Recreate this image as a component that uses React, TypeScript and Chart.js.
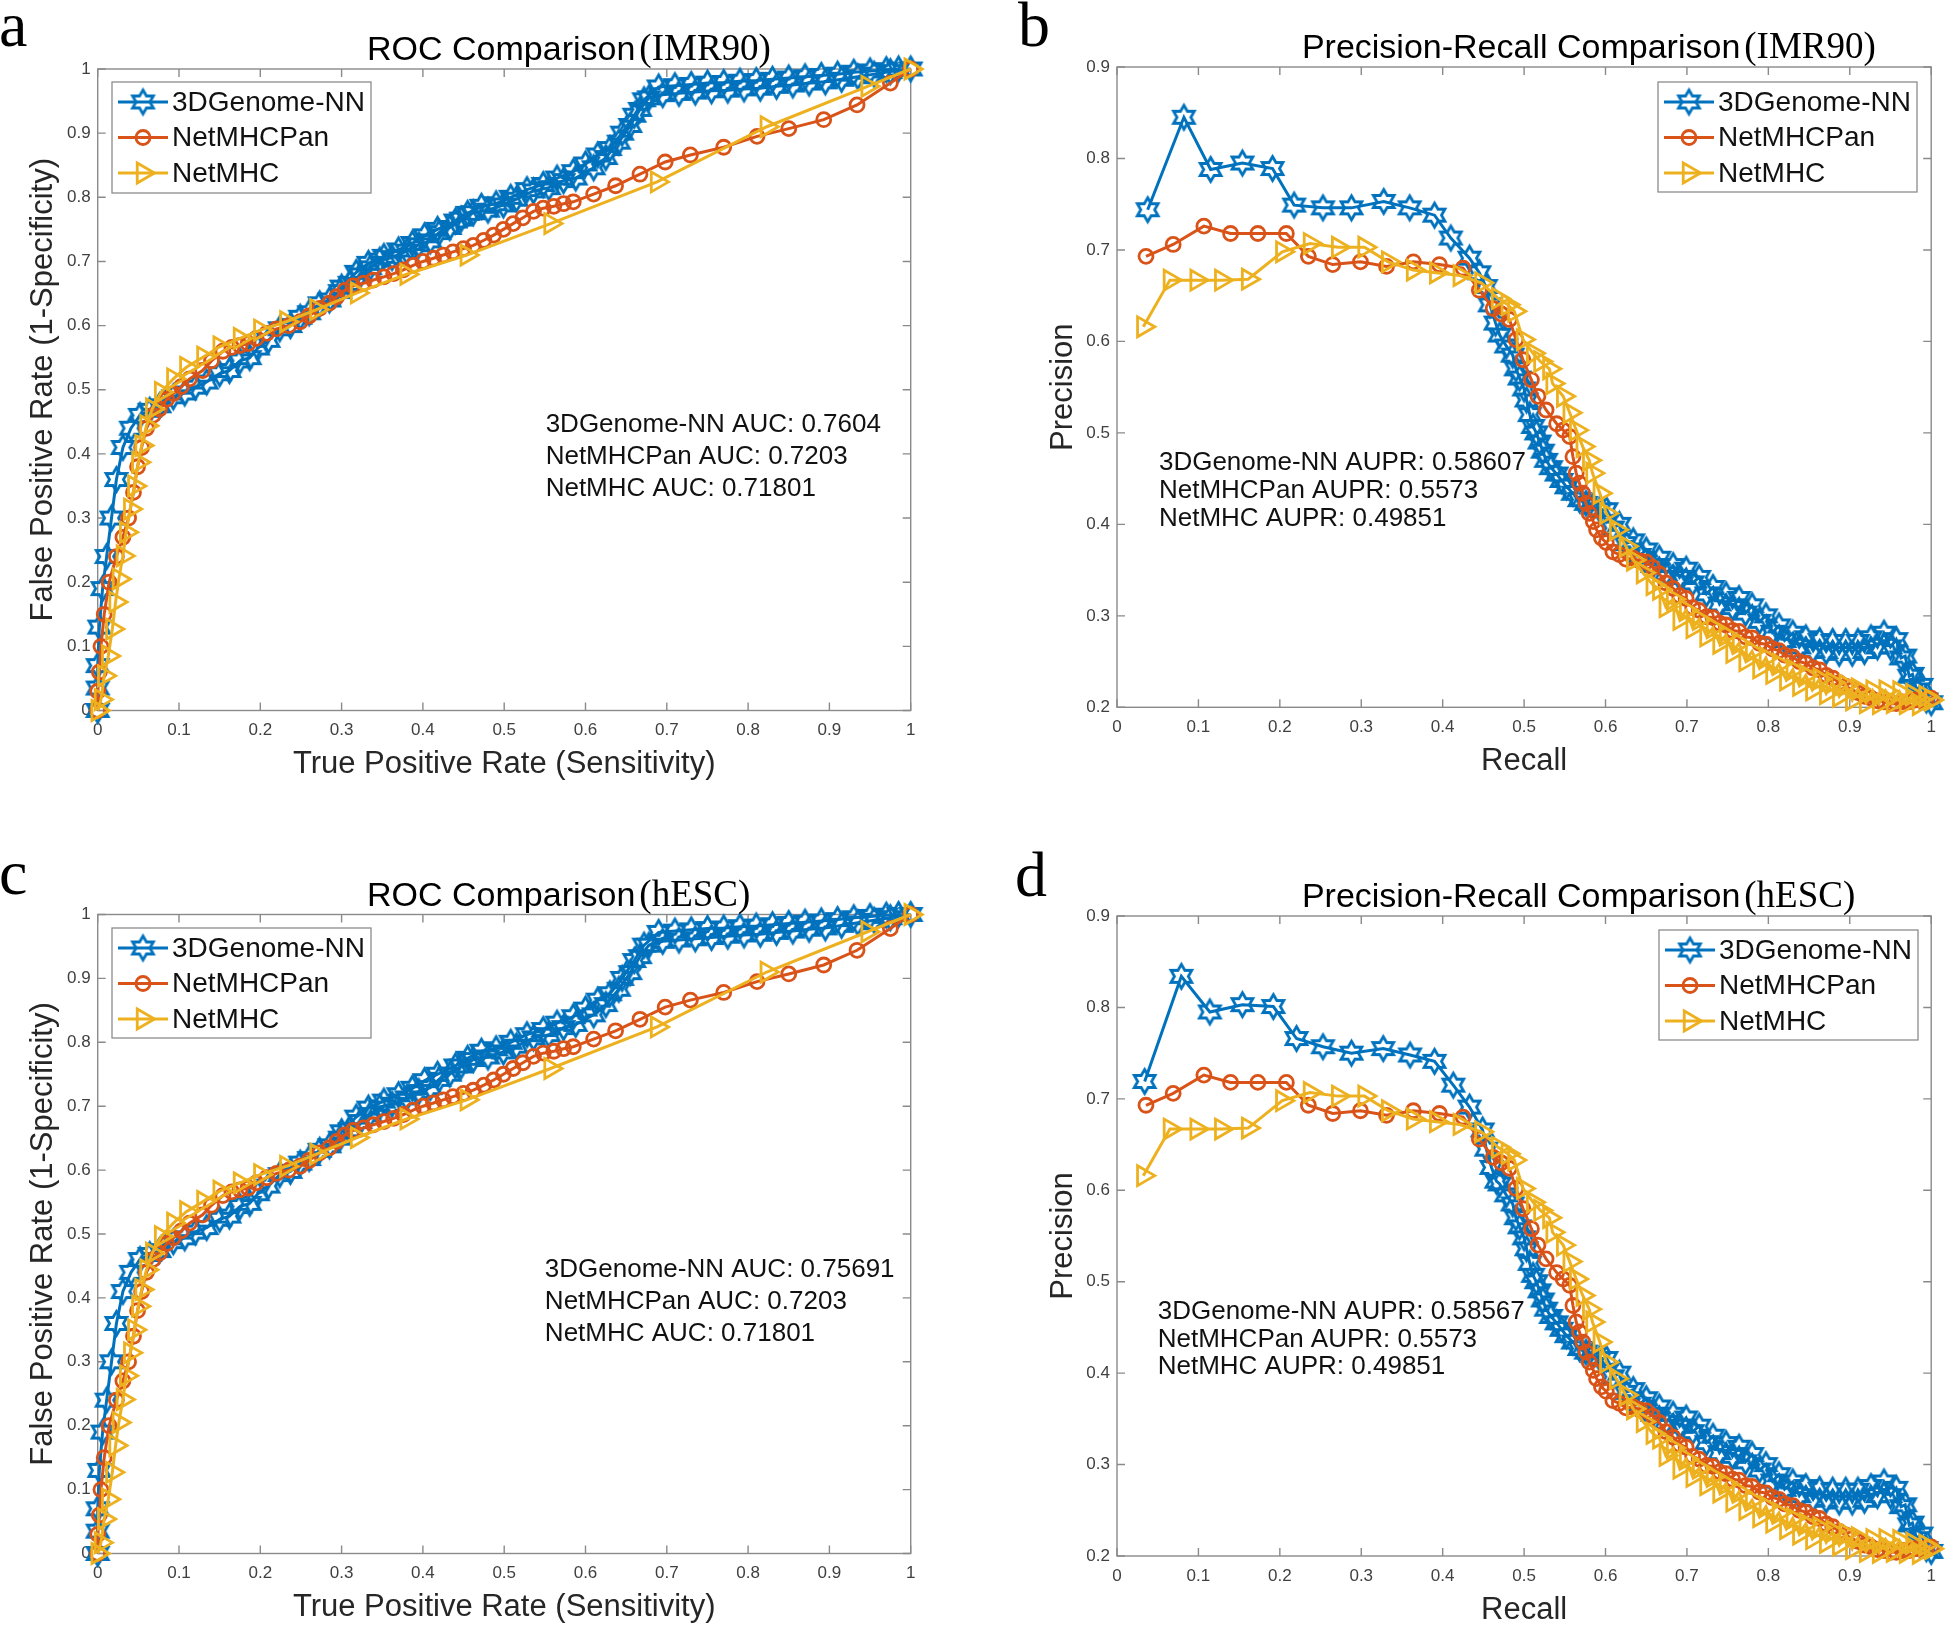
import React, { useEffect, useRef } from 'react';
import { Chart, registerables } from 'chart.js';
Chart.register(...registerables);

type Pt = [number, number];

// ---------- colours ----------
const C_NN = '#0072BD';
const C_PAN = '#D95319';
const C_MHC = '#EDB120';
const AXIS = '#8a8a8a';

// ---------- tick values / labels ----------
const rocTicks = [0, 0.1, 0.2, 0.3, 0.4, 0.5, 0.6, 0.7, 0.8, 0.9, 1];
const rocTickLabels = ['0', '0.1', '0.2', '0.3', '0.4', '0.5', '0.6', '0.7', '0.8', '0.9', '1'];
const prYTicks = [0.2, 0.3, 0.4, 0.5, 0.6, 0.7, 0.8, 0.9];
const prYTickLabels = ['0.2', '0.3', '0.4', '0.5', '0.6', '0.7', '0.8', '0.9'];

const seriesNames = ['3DGenome-NN', 'NetMHCPan', 'NetMHC'];

// ---------- ROC data (x = true positive rate axis, y = false positive rate axis) ----------
const rocNN_IMR90: Pt[] = [
  [0, 0], [0, 0.035], [0, 0.07], [0.002, 0.13], [0.006, 0.19], [0.011, 0.24], [0.017, 0.3], [0.023, 0.36],
  [0.031, 0.41], [0.041, 0.44], [0.052, 0.46], [0.064, 0.468], [0.076, 0.475], [0.093, 0.489], [0.107, 0.495],
  [0.12, 0.504], [0.134, 0.512], [0.15, 0.525], [0.162, 0.53], [0.175, 0.545], [0.187, 0.55], [0.197, 0.565],
  [0.21, 0.577], [0.224, 0.595], [0.237, 0.6], [0.249, 0.613], [0.26, 0.62], [0.273, 0.634], [0.285, 0.64],
  [0.298, 0.653], [0.31, 0.666], [0.323, 0.679], [0.335, 0.69], [0.347, 0.702], [0.362, 0.706], [0.38, 0.716],
  [0.395, 0.726], [0.409, 0.732], [0.42, 0.745], [0.433, 0.753], [0.447, 0.766], [0.462, 0.776], [0.48, 0.78],
  [0.499, 0.788], [0.515, 0.797], [0.536, 0.81], [0.555, 0.815], [0.573, 0.826], [0.588, 0.83], [0.61, 0.846],
  [0.625, 0.862], [0.641, 0.886], [0.655, 0.912], [0.667, 0.937], [0.678, 0.955], [0.695, 0.96], [0.715, 0.962],
  [0.735, 0.964], [0.755, 0.966], [0.775, 0.967], [0.795, 0.969], [0.815, 0.97], [0.835, 0.973], [0.855, 0.975],
  [0.875, 0.978], [0.895, 0.98], [0.915, 0.984], [0.935, 0.988], [0.955, 0.992], [0.975, 0.996], [1, 1],
];
const rocNN_hESC: Pt[] = [
  [0, 0], [0, 0.035], [0, 0.07], [0.002, 0.13], [0.006, 0.19], [0.011, 0.24], [0.017, 0.3], [0.023, 0.36],
  [0.031, 0.41], [0.041, 0.44], [0.052, 0.46], [0.064, 0.468], [0.076, 0.474], [0.093, 0.488], [0.107, 0.494],
  [0.12, 0.503], [0.134, 0.51], [0.15, 0.523], [0.162, 0.528], [0.175, 0.543], [0.187, 0.548], [0.197, 0.563],
  [0.21, 0.575], [0.224, 0.593], [0.237, 0.598], [0.249, 0.611], [0.26, 0.618], [0.273, 0.631], [0.285, 0.638],
  [0.298, 0.65], [0.31, 0.663], [0.323, 0.676], [0.335, 0.687], [0.347, 0.699], [0.362, 0.703], [0.38, 0.713],
  [0.395, 0.723], [0.409, 0.729], [0.42, 0.742], [0.433, 0.75], [0.447, 0.763], [0.462, 0.773], [0.48, 0.777],
  [0.499, 0.785], [0.515, 0.794], [0.536, 0.807], [0.555, 0.812], [0.573, 0.823], [0.588, 0.828], [0.61, 0.843],
  [0.625, 0.859], [0.641, 0.883], [0.655, 0.909], [0.667, 0.934], [0.678, 0.952], [0.695, 0.958], [0.715, 0.96],
  [0.735, 0.962], [0.755, 0.964], [0.775, 0.966], [0.795, 0.968], [0.815, 0.969], [0.835, 0.972], [0.855, 0.974],
  [0.875, 0.977], [0.895, 0.979], [0.915, 0.983], [0.935, 0.987], [0.955, 0.991], [0.975, 0.995], [1, 1],
];
const rocNNUpper: Pt[] = [
  [0.3, 0.66], [0.318, 0.683], [0.333, 0.697], [0.352, 0.708], [0.37, 0.718], [0.387, 0.728], [0.402, 0.74],
  [0.418, 0.75], [0.44, 0.763], [0.455, 0.775], [0.472, 0.786], [0.49, 0.79], [0.508, 0.8], [0.528, 0.812],
  [0.548, 0.82], [0.565, 0.83], [0.585, 0.84], [0.6, 0.852], [0.615, 0.866], [0.63, 0.876], [0.645, 0.9],
  [0.66, 0.928], [0.672, 0.952], [0.69, 0.972], [0.71, 0.974], [0.73, 0.976], [0.75, 0.978], [0.77, 0.979],
  [0.79, 0.981], [0.81, 0.982], [0.83, 0.984], [0.85, 0.986], [0.87, 0.988], [0.89, 0.99], [0.91, 0.992],
  [0.93, 0.995], [0.95, 0.997], [0.97, 0.999], [0.985, 1.0],
];
const rocPan: Pt[] = [
  [0, 0], [0, 0.03], [0.002, 0.06], [0.004, 0.1], [0.008, 0.15], [0.014, 0.2], [0.023, 0.24], [0.031, 0.27],
  [0.038, 0.3], [0.044, 0.34], [0.049, 0.38], [0.054, 0.41], [0.06, 0.44], [0.068, 0.46], [0.076, 0.47],
  [0.085, 0.485], [0.093, 0.494], [0.103, 0.505], [0.113, 0.517], [0.129, 0.53], [0.14, 0.545], [0.154, 0.56],
  [0.165, 0.566], [0.175, 0.569], [0.185, 0.572], [0.195, 0.58], [0.208, 0.588], [0.22, 0.595], [0.235, 0.6],
  [0.249, 0.606], [0.26, 0.615], [0.273, 0.627], [0.285, 0.635], [0.294, 0.645], [0.304, 0.655], [0.314, 0.662],
  [0.327, 0.666], [0.339, 0.671], [0.352, 0.676], [0.364, 0.681], [0.376, 0.687], [0.388, 0.694], [0.4, 0.7],
  [0.413, 0.705], [0.425, 0.71], [0.437, 0.715], [0.45, 0.72], [0.462, 0.725], [0.475, 0.733], [0.487, 0.741],
  [0.499, 0.75], [0.511, 0.759], [0.523, 0.768], [0.536, 0.778], [0.548, 0.783], [0.561, 0.786], [0.573, 0.79],
  [0.585, 0.793], [0.61, 0.805], [0.637, 0.818], [0.667, 0.836], [0.698, 0.855], [0.729, 0.866], [0.77, 0.878],
  [0.811, 0.895], [0.85, 0.907], [0.893, 0.921], [0.934, 0.944], [0.975, 0.978], [1, 1],
];
const rocMHC: Pt[] = [
  [0, 0], [0.004, 0.017], [0.008, 0.054], [0.013, 0.085], [0.018, 0.127], [0.022, 0.169], [0.026, 0.205],
  [0.031, 0.241], [0.035, 0.278], [0.04, 0.314], [0.045, 0.35], [0.05, 0.387], [0.054, 0.413], [0.06, 0.444],
  [0.067, 0.47], [0.078, 0.496], [0.093, 0.517], [0.109, 0.535], [0.13, 0.551], [0.15, 0.567], [0.175, 0.58],
  [0.2, 0.593], [0.232, 0.606], [0.269, 0.625], [0.319, 0.651], [0.38, 0.68], [0.454, 0.71], [0.557, 0.759],
  [0.688, 0.824], [0.823, 0.91], [0.947, 0.973], [1, 1],
];

// ---------- Precision-recall data ----------
const prNNHead_IMR90: Pt[] = [
  [0.0377, 0.744], [0.0822, 0.845], [0.115, 0.788], [0.154, 0.795], [0.191, 0.789], [0.2175, 0.749],
  [0.253, 0.746], [0.288, 0.746], [0.3276, 0.753], [0.3595, 0.746], [0.39, 0.738], [0.41, 0.713],
  [0.433, 0.691], [0.445, 0.675], [0.453, 0.66], [0.458, 0.64], [0.465, 0.62],
];
const prNNHead_hESC: Pt[] = [
  [0.034, 0.719], [0.079, 0.834], [0.114, 0.795], [0.154, 0.803], [0.192, 0.801], [0.2205, 0.766],
  [0.253, 0.757], [0.288, 0.75], [0.327, 0.755], [0.36, 0.748], [0.39, 0.741], [0.413, 0.715],
  [0.433, 0.691], [0.449, 0.666], [0.4536, 0.645], [0.46, 0.625], [0.466, 0.61],
];
const prNNTail: Pt[] = [
  [0.47, 0.607], [0.478, 0.595], [0.486, 0.585], [0.49, 0.57], [0.4945, 0.56], [0.5, 0.548], [0.503, 0.536],
  [0.507, 0.52], [0.511, 0.507], [0.515, 0.5], [0.519, 0.49], [0.523, 0.48], [0.527, 0.47], [0.533, 0.462],
  [0.54, 0.455], [0.546, 0.448], [0.552, 0.441], [0.56, 0.434], [0.568, 0.427], [0.576, 0.423], [0.584, 0.419],
  [0.593, 0.416], [0.601, 0.416], [0.609, 0.396], [0.617, 0.4], [0.625, 0.379], [0.634, 0.382], [0.642, 0.366],
  [0.65, 0.372], [0.658, 0.355], [0.666, 0.363], [0.674, 0.346], [0.683, 0.355], [0.691, 0.342], [0.699, 0.351],
  [0.707, 0.336], [0.715, 0.342], [0.724, 0.324], [0.732, 0.331], [0.74, 0.313], [0.748, 0.323], [0.756, 0.309],
  [0.764, 0.319], [0.772, 0.303], [0.78, 0.311], [0.789, 0.294], [0.797, 0.3], [0.805, 0.282], [0.813, 0.289],
  [0.82, 0.273], [0.83, 0.281], [0.838, 0.266], [0.846, 0.276], [0.855, 0.262], [0.863, 0.273], [0.871, 0.261],
  [0.879, 0.272], [0.887, 0.259], [0.895, 0.272], [0.903, 0.259], [0.91, 0.272], [0.918, 0.261], [0.926, 0.276],
  [0.934, 0.266], [0.942, 0.281], [0.95, 0.266], [0.957, 0.274], [0.963, 0.254], [0.968, 0.256], [0.973, 0.234],
  [0.977, 0.236], [0.982, 0.219], [0.988, 0.224], [0.994, 0.208], [1.0, 0.205],
];
const prPan: Pt[] = [
  [0.0356, 0.693], [0.069, 0.706], [0.1067, 0.726], [0.1395, 0.718], [0.173, 0.718], [0.208, 0.718],
  [0.235, 0.693], [0.265, 0.684], [0.299, 0.687], [0.331, 0.682], [0.364, 0.687], [0.396, 0.684], [0.425, 0.68],
  [0.445, 0.656], [0.462, 0.636], [0.472, 0.63], [0.482, 0.624], [0.49, 0.602], [0.4986, 0.58], [0.509, 0.558],
  [0.517, 0.54], [0.527, 0.525], [0.54, 0.51], [0.548, 0.503], [0.556, 0.496], [0.56, 0.474], [0.564, 0.456],
  [0.568, 0.445], [0.572, 0.434], [0.576, 0.423], [0.58, 0.412], [0.585, 0.403], [0.589, 0.394], [0.595, 0.385],
  [0.601, 0.38], [0.609, 0.37], [0.617, 0.367], [0.625, 0.362], [0.634, 0.363], [0.642, 0.36], [0.65, 0.359],
  [0.658, 0.353], [0.666, 0.346], [0.674, 0.336], [0.683, 0.33], [0.691, 0.322], [0.699, 0.319], [0.707, 0.309],
  [0.715, 0.306], [0.724, 0.299], [0.732, 0.298], [0.74, 0.292], [0.748, 0.29], [0.756, 0.284], [0.764, 0.283],
  [0.772, 0.277], [0.78, 0.276], [0.789, 0.27], [0.797, 0.269], [0.805, 0.264], [0.813, 0.262], [0.82, 0.257],
  [0.83, 0.255], [0.838, 0.25], [0.846, 0.248], [0.855, 0.243], [0.863, 0.241], [0.871, 0.235], [0.879, 0.232],
  [0.887, 0.227], [0.895, 0.223], [0.903, 0.219], [0.91, 0.216], [0.918, 0.212], [0.926, 0.21], [0.934, 0.207],
  [0.942, 0.206], [0.95, 0.204], [0.957, 0.204], [0.965, 0.206], [0.973, 0.206], [0.98, 0.208], [0.988, 0.207],
  [0.994, 0.209], [1.0, 0.21],
];
const prMHC: Pt[] = [
  [0.0323, 0.616], [0.065, 0.667], [0.0978, 0.667], [0.128, 0.667], [0.161, 0.668], [0.203, 0.698],
  [0.237, 0.707], [0.2716, 0.703], [0.304, 0.703], [0.333, 0.687], [0.3636, 0.678], [0.392, 0.675],
  [0.421, 0.672], [0.4475, 0.664], [0.468, 0.647], [0.48, 0.64], [0.488, 0.633], [0.4986, 0.602], [0.511, 0.587],
  [0.52, 0.578], [0.531, 0.57], [0.535, 0.554], [0.548, 0.54], [0.556, 0.522], [0.564, 0.503], [0.572, 0.485],
  [0.58, 0.47], [0.584, 0.456], [0.593, 0.434], [0.601, 0.412], [0.613, 0.394], [0.625, 0.376], [0.634, 0.361],
  [0.646, 0.347], [0.658, 0.334], [0.666, 0.329], [0.674, 0.31], [0.683, 0.318], [0.691, 0.296], [0.699, 0.306],
  [0.707, 0.287], [0.715, 0.296], [0.724, 0.278], [0.732, 0.287], [0.74, 0.27], [0.748, 0.279], [0.756, 0.26],
  [0.764, 0.27], [0.772, 0.251], [0.78, 0.261], [0.789, 0.243], [0.797, 0.254], [0.805, 0.237], [0.813, 0.247],
  [0.822, 0.23], [0.83, 0.241], [0.838, 0.224], [0.846, 0.235], [0.854, 0.219], [0.863, 0.231], [0.871, 0.215],
  [0.879, 0.227], [0.887, 0.212], [0.895, 0.224], [0.903, 0.208], [0.91, 0.22], [0.92, 0.205], [0.928, 0.218],
  [0.936, 0.204], [0.944, 0.218], [0.953, 0.205], [0.961, 0.217], [0.969, 0.204], [0.977, 0.214], [0.985, 0.203],
  [0.993, 0.212], [1.0, 0.208],
];

// ---------- annotation texts ----------
const notesA = ['3DGenome-NN AUC: 0.7604', 'NetMHCPan AUC: 0.7203', 'NetMHC AUC: 0.71801'];
const notesB = ['3DGenome-NN AUPR: 0.58607', 'NetMHCPan AUPR: 0.5573', 'NetMHC AUPR: 0.49851'];
const notesC = ['3DGenome-NN AUC: 0.75691', 'NetMHCPan AUC: 0.7203', 'NetMHC AUC: 0.71801'];
const notesD = ['3DGenome-NN AUPR: 0.58567', 'NetMHCPan AUPR: 0.5573', 'NetMHC AUPR: 0.49851'];

// ---------- markers ----------
const HEX_R = 12;
const CIRCLE_R = 7;
const TRI_R = 11.5;
const MARK_LW = 2.8;
const LINE_W = 3;

function makeHexagram(color: string): HTMLCanvasElement {
  const R = HEX_R, lw = MARK_LW;
  const size = Math.ceil(2 * R + lw * 3 + 2);
  const c = document.createElement('canvas');
  c.width = size; c.height = size;
  const ctx = c.getContext('2d')!;
  const cx = size / 2, cy = size / 2;
  const r = R / Math.sqrt(3);
  ctx.beginPath();
  for (let k = 0; k < 12; k++) {
    const ang = -Math.PI / 2 + (k * Math.PI) / 6;
    const rad = k % 2 === 0 ? R : r;
    const px = cx + rad * Math.cos(ang), py = cy + rad * Math.sin(ang);
    if (k === 0) ctx.moveTo(px, py); else ctx.lineTo(px, py);
  }
  ctx.closePath();
  ctx.strokeStyle = color; ctx.lineWidth = lw; ctx.lineJoin = 'miter'; ctx.miterLimit = 2.5;
  ctx.stroke();
  return c;
}

type Kind = 'hex' | 'circle' | 'tri';
const kinds: Kind[] = ['hex', 'circle', 'tri'];
const colors = [C_NN, C_PAN, C_MHC];

function drawMarker(ctx: CanvasRenderingContext2D, kind: Kind, x: number, y: number, color: string, hex: HTMLCanvasElement) {
  ctx.save();
  ctx.strokeStyle = color; ctx.lineWidth = MARK_LW;
  if (kind === 'hex') {
    ctx.drawImage(hex, x - hex.width / 2, y - hex.height / 2);
  } else if (kind === 'circle') {
    ctx.beginPath(); ctx.arc(x, y, CIRCLE_R, 0, Math.PI * 2); ctx.stroke();
  } else {
    const r = TRI_R;
    ctx.beginPath();
    ctx.moveTo(x + r, y);
    ctx.lineTo(x + r * Math.cos((2 * Math.PI) / 3), y + r * Math.sin((2 * Math.PI) / 3));
    ctx.lineTo(x + r * Math.cos((4 * Math.PI) / 3), y + r * Math.sin((4 * Math.PI) / 3));
    ctx.closePath(); ctx.stroke();
  }
  ctx.restore();
}

interface PanelCfg {
  left: number; top: number; width: number; height: number;
  area: { left: number; right: number; top: number; bottom: number };
  yMin: number; yMax: number;
  yTicks: number[]; yTickLabels: string[];
  titleMain: string; titleSuffix: string;
  xLabel: string; yLabel: string;
  letter: string; letterX: number; letterY: number;
  legend: { x: number; y: number; w: number; h: number };
  notes: string[]; noteX: number; noteY: number[];
  series: { pts: Pt[]; kind: number }[];
}

const FONT = '"Liberation Sans", Arial, Helvetica, sans-serif';
const SERIF = '"Liberation Serif", "Times New Roman", serif';

function Panel({ cfg }: { cfg: PanelCfg }) {
  const ref = useRef<HTMLCanvasElement>(null);
  useEffect(() => {
    const canvas = ref.current!;
    const hex = makeHexagram(C_NN);
    const datasets = cfg.series.map((s) => {
      const k = kinds[s.kind];
      const col = colors[s.kind];
      return {
        data: s.pts.map(([x, y]) => ({ x, y })),
        showLine: true,
        borderColor: col,
        borderWidth: LINE_W,
        backgroundColor: 'rgba(0,0,0,0)',
        pointStyle: k === 'hex' ? hex : k === 'circle' ? 'circle' : 'triangle',
        pointRotation: k === 'tri' ? 90 : 0,
        pointRadius: k === 'circle' ? CIRCLE_R : k === 'tri' ? TRI_R : HEX_R,
        pointBorderWidth: MARK_LW,
        pointBorderColor: col,
        pointBackgroundColor: 'rgba(0,0,0,0)',
        tension: 0,
        clip: false as const,
        order: 2 - s.kind,
      };
    });

    const decor = {
      id: 'decor',
      beforeDatasetsDraw(chart: any) {
        const { ctx, chartArea: a, scales } = chart;
        ctx.save();
        ctx.strokeStyle = AXIS; ctx.lineWidth = 1.4;
        ctx.strokeRect(a.left, a.top, a.right - a.left, a.bottom - a.top);
        const TL = 8;
        ctx.beginPath();
        for (const v of rocTicks) {
          const px = scales.x.getPixelForValue(v);
          ctx.moveTo(px, a.bottom); ctx.lineTo(px, a.bottom - TL);
          ctx.moveTo(px, a.top); ctx.lineTo(px, a.top + TL);
        }
        for (const v of cfg.yTicks) {
          const py = scales.y.getPixelForValue(v);
          ctx.moveTo(a.left, py); ctx.lineTo(a.left + TL, py);
          ctx.moveTo(a.right, py); ctx.lineTo(a.right - TL, py);
        }
        ctx.stroke();
        ctx.restore();
      },
      afterDraw(chart: any) {
        const { ctx, chartArea: a, scales } = chart;
        ctx.save();
        // title
        ctx.fillStyle = '#000';
        ctx.textBaseline = 'alphabetic';
        ctx.textAlign = 'left';
        ctx.font = `34px ${FONT}`;
        const w1 = ctx.measureText(cfg.titleMain).width;
        const tx = (a.left + a.right) / 2 - w1 / 2 - 3;
        const ty = a.top - 9;
        ctx.fillText(cfg.titleMain, tx, ty);
        ctx.font = `37px ${SERIF}`;
        ctx.fillText(cfg.titleSuffix, tx + w1 + 4, ty);
        // axis labels
        ctx.fillStyle = '#262626';
        ctx.font = `31px ${FONT}`;
        ctx.textAlign = 'center';
        ctx.textBaseline = 'middle';
        ctx.fillText(cfg.xLabel, (a.left + a.right) / 2, a.bottom + 54);
        ctx.save();
        ctx.translate(a.left - 54, (a.top + a.bottom) / 2);
        ctx.rotate(-Math.PI / 2);
        ctx.fillText(cfg.yLabel, 0, 0);
        ctx.restore();
        // annotation
        ctx.fillStyle = '#111';
        ctx.font = `26px ${FONT}`;
        ctx.textAlign = 'left';
        ctx.textBaseline = 'alphabetic';
        cfg.notes.forEach((t, i) => {
          ctx.fillText(t, scales.x.getPixelForValue(cfg.noteX), scales.y.getPixelForValue(cfg.noteY[i]));
        });
        // legend
        const L = cfg.legend;
        ctx.fillStyle = '#fff';
        ctx.fillRect(L.x, L.y, L.w, L.h);
        ctx.strokeStyle = '#8c8c8c'; ctx.lineWidth = 1.3;
        ctx.strokeRect(L.x, L.y, L.w, L.h);
        ctx.font = `28px ${FONT}`;
        ctx.textBaseline = 'middle';
        seriesNames.forEach((name, i) => {
          const cy = L.y + 20 + i * 35.5;
          ctx.strokeStyle = colors[i]; ctx.lineWidth = LINE_W;
          ctx.beginPath(); ctx.moveTo(L.x + 6, cy); ctx.lineTo(L.x + 56, cy); ctx.stroke();
          drawMarker(ctx, kinds[i], L.x + 31, cy, colors[i], hex);
          ctx.fillStyle = '#111';
          ctx.fillText(name, L.x + 60, cy + 1);
        });
        // panel letter
        ctx.fillStyle = '#000';
        ctx.font = `64px ${SERIF}`;
        ctx.textBaseline = 'alphabetic';
        ctx.fillText(cfg.letter, cfg.letterX, cfg.letterY);
        ctx.restore();
      },
    };

    const tickFont = { family: FONT, size: 17 };
    const chart = new Chart(canvas, {
      type: 'scatter',
      data: { datasets: datasets as any },
      options: {
        responsive: false,
        animation: false,
        devicePixelRatio: 1,
        events: [],
        layout: { padding: { left: 0, top: cfg.area.top, right: cfg.width - cfg.area.right, bottom: 0 } },
        plugins: { legend: { display: false }, title: { display: false }, tooltip: { enabled: false } },
        scales: {
          x: {
            type: 'linear', min: 0, max: 1,
            afterBuildTicks: (s: any) => { s.ticks = rocTicks.map((v) => ({ value: v })); },
            ticks: {
              callback: (_v: any, i: number) => rocTickLabels[i],
              font: tickFont, color: '#404040', padding: 10, maxRotation: 0, autoSkip: false,
            },
            grid: { display: false, drawTicks: false },
            border: { display: false },
            afterFit: (s: any) => { s.height = cfg.height - cfg.area.bottom; },
          },
          y: {
            type: 'linear', min: cfg.yMin, max: cfg.yMax,
            afterBuildTicks: (s: any) => { s.ticks = cfg.yTicks.map((v) => ({ value: v })); },
            ticks: {
              callback: (_v: any, i: number) => cfg.yTickLabels[i],
              font: tickFont, color: '#404040', padding: 7, autoSkip: false,
            },
            grid: { display: false, drawTicks: false },
            border: { display: false },
            afterFit: (s: any) => { s.width = cfg.area.left; },
          },
        } as any,
      },
      plugins: [decor],
    });
    return () => chart.destroy();
  }, []);
  return (
    <canvas
      ref={ref}
      width={cfg.width}
      height={cfg.height}
      style={{ position: 'absolute', left: cfg.left, top: cfg.top, width: cfg.width, height: cfg.height }}
    />
  );
}

const panels: PanelCfg[] = [
  {
    left: 0, top: 0, width: 973, height: 812,
    area: { left: 97.7, right: 910.7, top: 69, bottom: 710.5 },
    yMin: 0, yMax: 1, yTicks: rocTicks, yTickLabels: rocTickLabels,
    titleMain: 'ROC Comparison', titleSuffix: '(IMR90)',
    xLabel: 'True Positive Rate (Sensitivity)', yLabel: 'False Positive Rate (1-Specificity)',
    letter: 'a', letterX: -1, letterY: 46,
    legend: { x: 112, y: 82, w: 259, h: 111 },
    notes: notesA, noteX: 0.551, noteY: [0.434, 0.384, 0.334],
    series: [{ pts: rocNN_IMR90, kind: 0 }, { pts: rocNNUpper, kind: 0 }, { pts: rocPan, kind: 1 }, { pts: rocMHC, kind: 2 }],
  },
  {
    left: 973, top: 0, width: 973, height: 812,
    area: { left: 144, right: 959, top: 67, bottom: 707.3 },
    yMin: 0.2, yMax: 0.9, yTicks: prYTicks, yTickLabels: prYTickLabels,
    titleMain: 'Precision-Recall Comparison', titleSuffix: '(IMR90)',
    xLabel: 'Recall', yLabel: 'Precision',
    letter: 'b', letterX: 45, letterY: 46,
    legend: { x: 685, y: 82, w: 259, h: 110 },
    notes: notesB, noteX: 0.0515, noteY: [0.4595, 0.4289, 0.398],
    series: [{ pts: [...prNNHead_IMR90, ...prNNTail], kind: 0 }, { pts: prPan, kind: 1 }, { pts: prMHC, kind: 2 }],
  },
  {
    left: 0, top: 812, width: 973, height: 813,
    area: { left: 97.7, right: 910.7, top: 102.5, bottom: 741.5 },
    yMin: 0, yMax: 1, yTicks: rocTicks, yTickLabels: rocTickLabels,
    titleMain: 'ROC Comparison', titleSuffix: '(hESC)',
    xLabel: 'True Positive Rate (Sensitivity)', yLabel: 'False Positive Rate (1-Specificity)',
    letter: 'c', letterX: -1, letterY: 81.5,
    legend: { x: 112, y: 116, w: 259, h: 110 },
    notes: notesC, noteX: 0.55, noteY: [0.433, 0.383, 0.333],
    series: [{ pts: rocNN_hESC, kind: 0 }, { pts: rocNNUpper, kind: 0 }, { pts: rocPan, kind: 1 }, { pts: rocMHC, kind: 2 }],
  },
  {
    left: 973, top: 812, width: 973, height: 813,
    area: { left: 144, right: 959, top: 104, bottom: 744 },
    yMin: 0.2, yMax: 0.9, yTicks: prYTicks, yTickLabels: prYTickLabels,
    titleMain: 'Precision-Recall Comparison', titleSuffix: '(hESC)',
    xLabel: 'Recall', yLabel: 'Precision',
    letter: 'd', letterX: 42, letterY: 84,
    legend: { x: 686, y: 118, w: 259, h: 110 },
    notes: notesD, noteX: 0.05, noteY: [0.459, 0.429, 0.399],
    series: [{ pts: [...prNNHead_hESC, ...prNNTail], kind: 0 }, { pts: prPan, kind: 1 }, { pts: prMHC, kind: 2 }],
  },
];

export default function App() {
  return (
    <div style={{ position: 'fixed', left: 0, top: 0, width: 1946, height: 1625, background: '#fff', overflow: 'hidden' }}>
      {panels.map((p, i) => (
        <Panel key={i} cfg={p} />
      ))}
    </div>
  );
}
